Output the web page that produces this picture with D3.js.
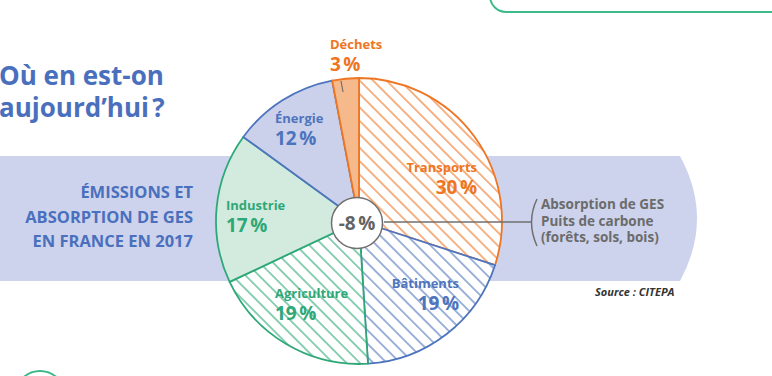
<!DOCTYPE html>
<html>
<head>
<meta charset="utf-8">
<script src="https://cdn.jsdelivr.net/npm/d3@7"></script>
<style>
  body { margin: 0; background: #fff; }
  svg { display: block; font-family: "Open Sans", sans-serif; }
</style>
</head>
<body>
<div id="container"></div>
<script>
/* DATA */
const categories = ["Transports", "Bâtiments", "Agriculture", "Industrie", "Énergie", "Déchets"];
const shares = [30, 19, 19, 17, 12, 3];
const netAbsorption = -8;
const titleLines = ["Où en est-on", "aujourd’hui\u202f?"];
const bandLines = ["ÉMISSIONS ET", "ABSORPTION DE GES", "EN FRANCE EN 2017"];
const absorptionLines = ["Absorption de GES", "Puits de carbone", "(forêts, sols, bois)"];
const sourceText = "Source : CITEPA";

/* CONSTANTS */
const width = 772, height = 376;
const cx = 359, cy = 221, radius = 143;

// style per slice
const styles = {
  "Transports":  { stroke: "#ee7522", fill: "url(#hatch-orange)", text: "#ee7522" },
  "Bâtiments":   { stroke: "#4e74bd", fill: "url(#hatch-blue)",   text: "#4e74bd" },
  "Agriculture": { stroke: "#2fa878", fill: "url(#hatch-green)",  text: "#2fa878" },
  "Industrie":   { stroke: "#2fa878", fill: "#d3ebdf",            text: "#2fa878" },
  "Énergie":     { stroke: "#4e74bd", fill: "#cbd1eb",            text: "#4e74bd" },
  "Déchets":     { stroke: "#ee7522", fill: "#f6b98b",            text: "#ee7522" }
};

// label placement (text anchor point)
const labelPos = {
  "Transports":  { x: 477, y: 172, anchor: "end" },
  "Bâtiments":   { x: 459, y: 288, anchor: "end" },
  "Agriculture": { x: 275, y: 298, anchor: "start" },
  "Industrie":   { x: 226, y: 210, anchor: "start" },
  "Énergie":     { x: 275, y: 123, anchor: "start" },
  "Déchets":     { x: 330, y: 49,  anchor: "start" }
};

const svg = d3.select("#container")
  .append("svg")
  .attr("width", width)
  .attr("height", height);

/* PATTERNS */
const defs = svg.append("defs");
[["orange", "#ee7522"], ["blue", "#4e74bd"], ["green", "#2fa878"]].forEach(([name, color]) => {
  const p = defs.append("pattern")
    .attr("id", "hatch-" + name)
    .attr("patternUnits", "userSpaceOnUse")
    .attr("width", 9.5)
    .attr("height", 9.5)
    .attr("patternTransform", "rotate(45)");
  p.append("rect").attr("width", 9.5).attr("height", 9.5).attr("fill", "#fff");
  p.append("line")
    .attr("x1", 0).attr("x2", 9.5)
    .attr("y1", 4.75).attr("y2", 4.75)
    .attr("stroke", color)
    .attr("stroke-width", 1.1);
});

/* DECORATIONS */
// top right green rounded box
svg.append("rect")
  .attr("x", 490).attr("y", -60)
  .attr("width", 320).attr("height", 72)
  .attr("rx", 16)
  .attr("fill", "none")
  .attr("stroke", "#3dba8a")
  .attr("stroke-width", 2);

// bottom left green circle
svg.append("circle")
  .attr("cx", 40).attr("cy", 396).attr("r", 25)
  .attr("fill", "none")
  .attr("stroke", "#3dba8a")
  .attr("stroke-width", 2);

// lavender band with rounded right end
const bandTop = 156, bandBot = 281, bandRight = 680;
svg.append("path")
  .attr("d", `M0,${bandTop} L${bandRight},${bandTop} Q${bandRight + 34},${(bandTop + bandBot) / 2} ${bandRight},${bandBot} L0,${bandBot} Z`)
  .attr("fill", "#cdd3ec");

/* TITLE */
svg.append("g")
  .selectAll("text")
  .data(titleLines)
  .join("text")
  .attr("x", -1)
  .attr("y", (d, i) => 85 + i * 32)
  .attr("fill", "#4a70bd")
  .attr("font-size", 26)
  .attr("font-weight", 700)
  .text(d => d);

// band title
svg.append("g")
  .selectAll("text")
  .data(bandLines)
  .join("text")
  .attr("x", 193)
  .attr("y", (d, i) => 198 + i * 24.5)
  .attr("text-anchor", "end")
  .attr("fill", "#4a70bd")
  .attr("font-size", 16.5)
  .attr("font-weight", 700)
  .text(d => d);

/* PIE */
const pie = d3.pie().sort(null).value(d => d.value).startAngle(0).endAngle(2 * Math.PI);
const arcs = pie(categories.map((c, i) => ({ name: c, value: shares[i] })));
const arc = d3.arc().innerRadius(0).outerRadius(radius);

const g = svg.append("g").attr("transform", `translate(${cx},${cy})`);
g.selectAll("path")
  .data(arcs)
  .join("path")
  .attr("d", arc)
  .attr("fill", d => styles[d.data.name].fill)
  .attr("stroke", d => styles[d.data.name].stroke)
  .attr("stroke-width", 1.8)
  .attr("stroke-linejoin", "round");

// Déchets leader line
svg.append("line")
  .attr("x1", 341).attr("y1", 81)
  .attr("x2", 343).attr("y2", 92)
  .attr("stroke", "#6f6f6f")
  .attr("stroke-width", 1.2);

// slice labels
const labels = svg.append("g")
  .selectAll("g")
  .data(arcs)
  .join("g");
labels.append("text")
  .attr("x", d => labelPos[d.data.name].x)
  .attr("y", d => labelPos[d.data.name].y)
  .attr("text-anchor", d => labelPos[d.data.name].anchor)
  .attr("fill", d => styles[d.data.name].text)
  .attr("font-size", 13)
  .attr("font-weight", 700)
  .text(d => d.data.name);
labels.append("text")
  .attr("x", d => labelPos[d.data.name].x)
  .attr("y", d => labelPos[d.data.name].y + 22)
  .attr("text-anchor", d => labelPos[d.data.name].anchor)
  .attr("fill", d => styles[d.data.name].text)
  .attr("font-size", 19)
  .attr("font-weight", 700)
  .text(d => d.data.value + "\u202f%");

/* ABSORPTION */
svg.append("line")
  .attr("x1", cx + 25).attr("y1", 222)
  .attr("x2", 532).attr("y2", 222)
  .attr("stroke", "#6f6f6f")
  .attr("stroke-width", 1.5);
svg.append("path")
  .attr("d", "M537,199 Q526,222 537,246")
  .attr("fill", "none")
  .attr("stroke", "#6f6f6f")
  .attr("stroke-width", 1.5);

svg.append("circle")
  .attr("cx", 357).attr("cy", 223).attr("r", 25.5)
  .attr("fill", "#fff")
  .attr("stroke", "#6f6f6f")
  .attr("stroke-width", 1.5);
svg.append("text")
  .attr("x", 357).attr("y", 230)
  .attr("text-anchor", "middle")
  .attr("fill", "#636363")
  .attr("font-size", 19)
  .attr("font-weight", 700)
  .text(netAbsorption + "\u202f%");

svg.append("g")
  .selectAll("text")
  .data(absorptionLines)
  .join("text")
  .attr("x", 541)
  .attr("y", (d, i) => 209 + i * 16.5)
  .attr("fill", "#6b6b6b")
  .attr("font-size", 13.5)
  .attr("font-weight", 700)
  .text(d => d);

svg.append("text")
  .attr("x", 595).attr("y", 296)
  .attr("fill", "#333")
  .attr("font-size", 11)
  .attr("font-weight", 700)
  .attr("font-style", "italic")
  .text(sourceText);
</script>
</body>
</html>
